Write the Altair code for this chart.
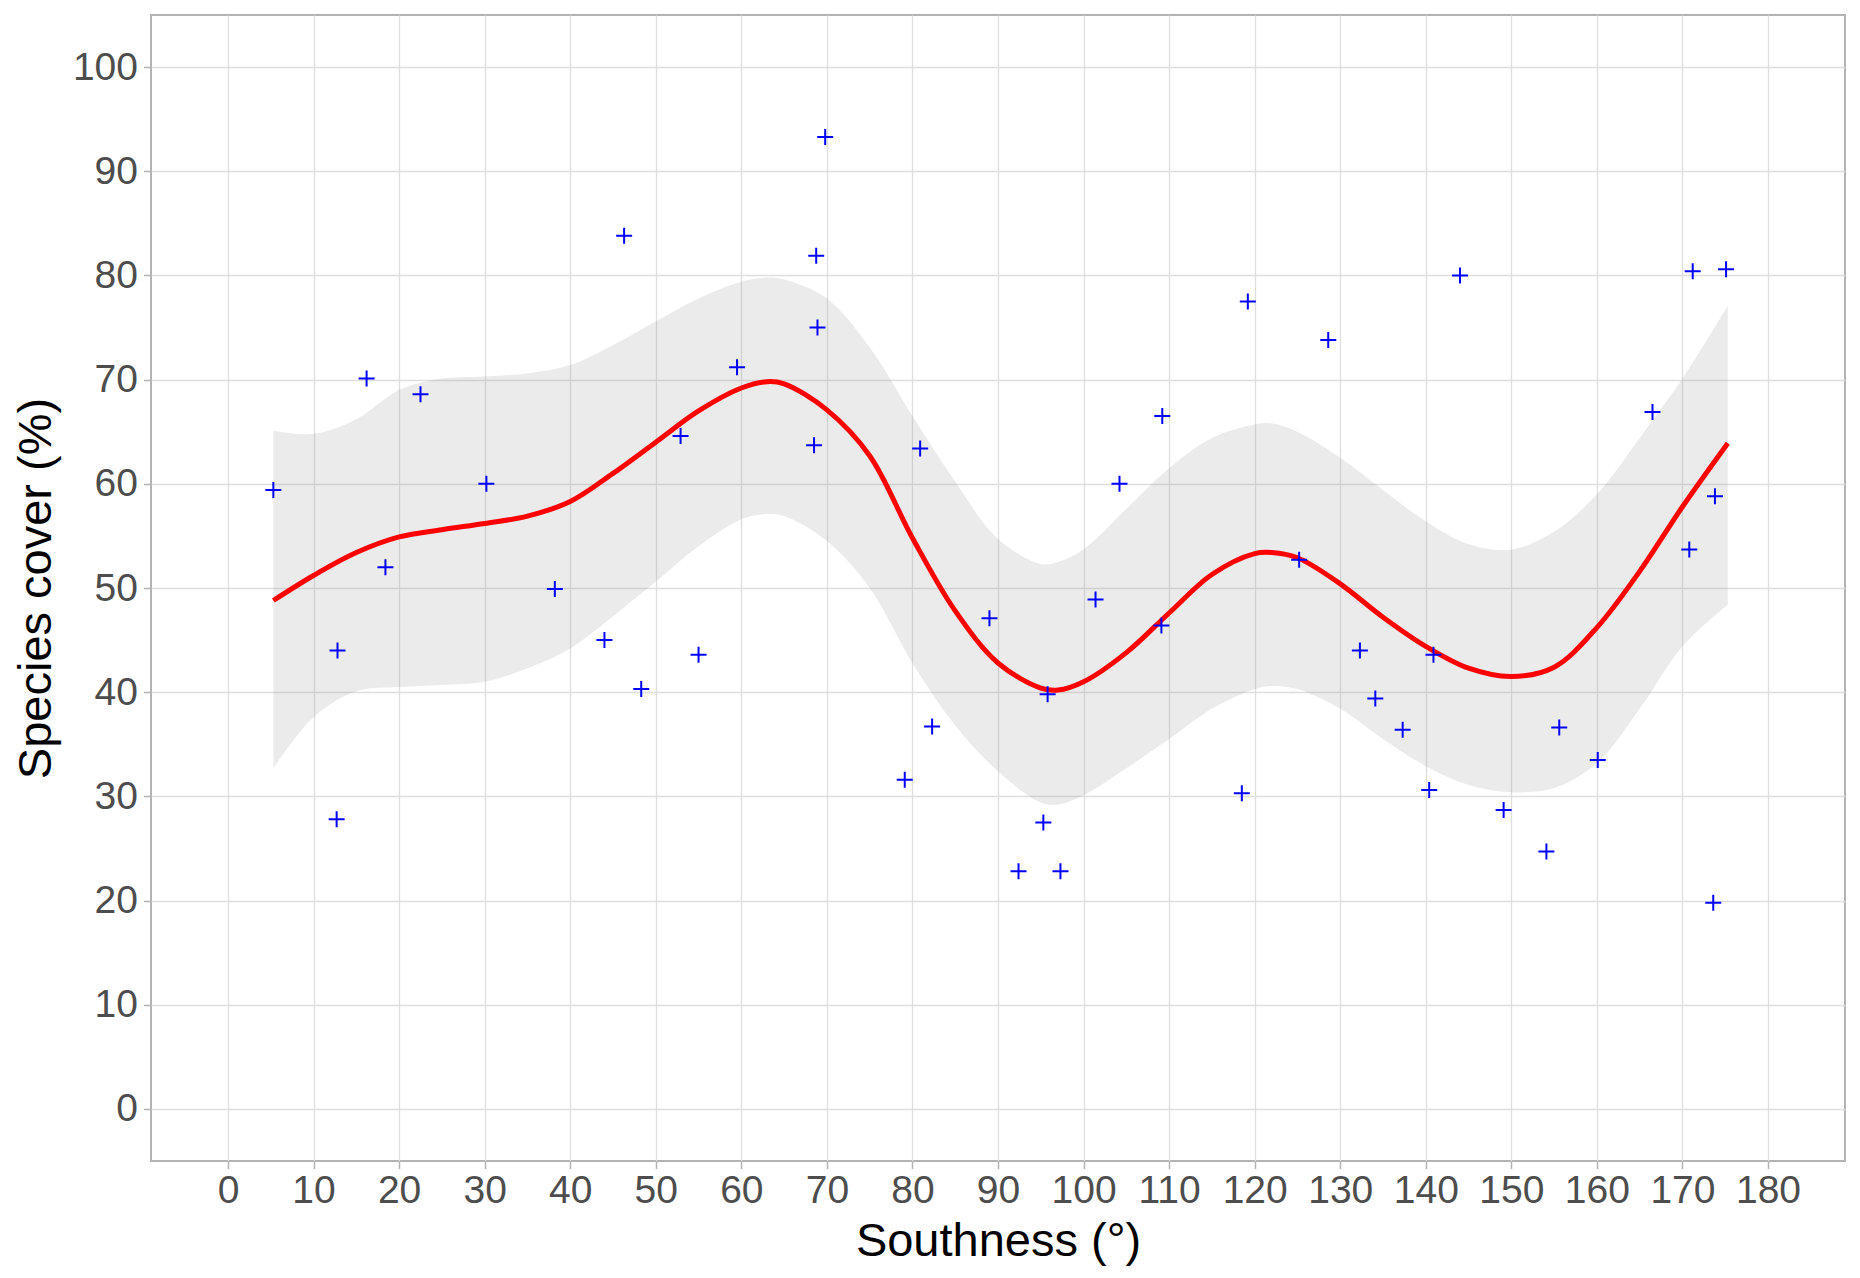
import altair as alt
import pandas as pd

# Observed points (Southness in degrees, species cover in %)
pt_x = [5.3, 12.8, 12.7, 16.2, 18.4, 22.5, 30.2, 38.2, 44.0, 46.3,
        48.3, 52.9, 55.0, 59.5, 68.5, 68.75, 68.9, 69.8, 79.1, 80.9,
        82.3, 89.0, 92.4, 95.3, 95.8, 97.3, 101.4, 104.2, 109.2, 109.1,
        118.5, 119.2, 125.2, 128.6, 132.3, 134.1, 137.3, 140.4, 140.9, 144.0,
        149.1, 154.1, 155.6, 160.1, 166.5, 170.8, 171.2, 173.8, 173.6, 175.1]
pt_y = [59.4, 44.0, 27.8, 70.1, 52.0, 68.6, 60.0, 49.9, 45.0, 83.8,
        40.3, 64.6, 43.6, 71.2, 63.7, 81.9, 75.0, 93.3, 31.6, 63.4,
        36.7, 47.1, 22.8, 27.5, 39.8, 22.8, 48.9, 60.0, 66.5, 46.4,
        30.3, 77.5, 52.7, 73.8, 44.0, 39.4, 36.4, 30.6, 43.6, 80.0,
        28.7, 24.7, 36.6, 33.5, 66.9, 53.7, 80.4, 58.8, 19.8, 80.6]

# Smooth fit and its confidence band
fit_x = [5.3, 10, 15, 20, 25, 30, 35, 40, 45, 50, 55, 60, 63, 65, 70, 75, 80, 85,
         90, 95, 97, 100, 105, 110, 115, 120, 122, 125, 130, 135, 140, 145, 150,
         155, 160, 165, 170, 175.3]
fit_y = [48.8, 51.2, 53.4, 54.9, 55.6, 56.2, 56.9, 58.3, 61.0, 64.0, 67.0, 69.2,
         69.8, 69.6, 67.1, 62.7, 54.8, 47.8, 42.8, 40.4, 40.2, 41.0, 43.8, 47.6,
         51.3, 53.3, 53.4, 52.9, 50.4, 47.2, 44.4, 42.3, 41.5, 42.4, 46.2, 51.6,
         57.8, 63.9]
fit_hi = [65.1, 64.8, 66.2, 69.0, 70.1, 70.3, 70.6, 71.4, 73.3, 75.6, 77.8, 79.4,
          79.8, 79.6, 77.8, 73.1, 66.5, 60.2, 54.7, 52.3, 52.5, 53.7, 57.6, 61.5,
          64.4, 65.7, 65.8, 65.0, 62.5, 59.4, 56.4, 54.2, 53.7, 55.4, 59.0, 64.4,
          70.1, 77.1]
fit_lo = [32.7, 37.6, 40.1, 40.5, 40.7, 41.0, 42.3, 44.2, 47.3, 50.6, 54.0, 56.6,
          57.1, 56.9, 54.5, 50.0, 42.8, 36.8, 32.4, 29.4, 29.2, 30.1, 32.7, 35.5,
          38.4, 40.3, 40.6, 40.3, 38.4, 35.5, 32.9, 31.1, 30.4, 30.8, 33.2, 38.4,
          44.4, 48.4]

x_ticks = list(range(0, 181, 10))
y_ticks = list(range(0, 101, 10))

pts = pd.DataFrame({"x": pt_x, "y": pt_y})
fit = pd.DataFrame({"x": fit_x, "y": fit_y, "lo": fit_lo, "hi": fit_hi})

W, H = 1694, 1146
FONT = "Liberation Sans"

xscale = alt.Scale(domain=[-9, 189], nice=False, zero=False)
yscale = alt.Scale(domain=[-5, 105], nice=False, zero=False)

xaxis = alt.Axis(values=x_ticks, title="Southness (°)", labelPadding=3,
                 titleX=W / 2, titleY=94, titleAlign="center",
                 titleBaseline="alphabetic")
yaxis = alt.Axis(values=y_ticks, title="Species cover (%)", labelPadding=6,
                 titleAngle=270, titleX=-101, titleY=H / 2,
                 titleAlign="center", titleBaseline="alphabetic")

band = alt.Chart(fit).mark_area(color="#999999", opacity=0.2,
                                interpolate="catmull-rom").encode(
    x=alt.X("x:Q", scale=xscale, axis=xaxis),
    y=alt.Y("lo:Q", scale=yscale, axis=yaxis),
    y2="hi:Q",
)

line = alt.Chart(fit).mark_line(color="#FF0000", strokeWidth=5,
                                interpolate="catmull-rom").encode(
    x=alt.X("x:Q", scale=xscale),
    y=alt.Y("y:Q", scale=yscale),
)

points = alt.Chart(pts).mark_point(shape="M-1,0H1M0,-1V1", filled=False,
                                   stroke="#0000FF", strokeWidth=2,
                                   size=256, opacity=1).encode(
    x=alt.X("x:Q", scale=xscale),
    y=alt.Y("y:Q", scale=yscale),
)

chart = alt.layer(band, line, points).properties(
    width=W, height=H,
    autosize=alt.AutoSizeParams(type="none"),
    padding={"left": 143, "top": 7, "right": 5, "bottom": 108},
    background="white",
).configure_view(
    stroke="#B3B3B3", strokeWidth=2
).configure_axis(
    domain=False,
    grid=True,
    gridColor="#DEDEDE",
    gridWidth=1.3,
    tickColor="#B3B3B3",
    tickSize=7.5,
    tickWidth=1.5,
    labelFont=FONT,
    labelFontSize=39,
    labelColor="#4D4D4D",
    titleFont=FONT,
    titleFontSize=47,
    titleColor="#000000",
    titleFontWeight="normal",
)

chart.save("out.html", embed_options={"renderer": "svg", "actions": False})
